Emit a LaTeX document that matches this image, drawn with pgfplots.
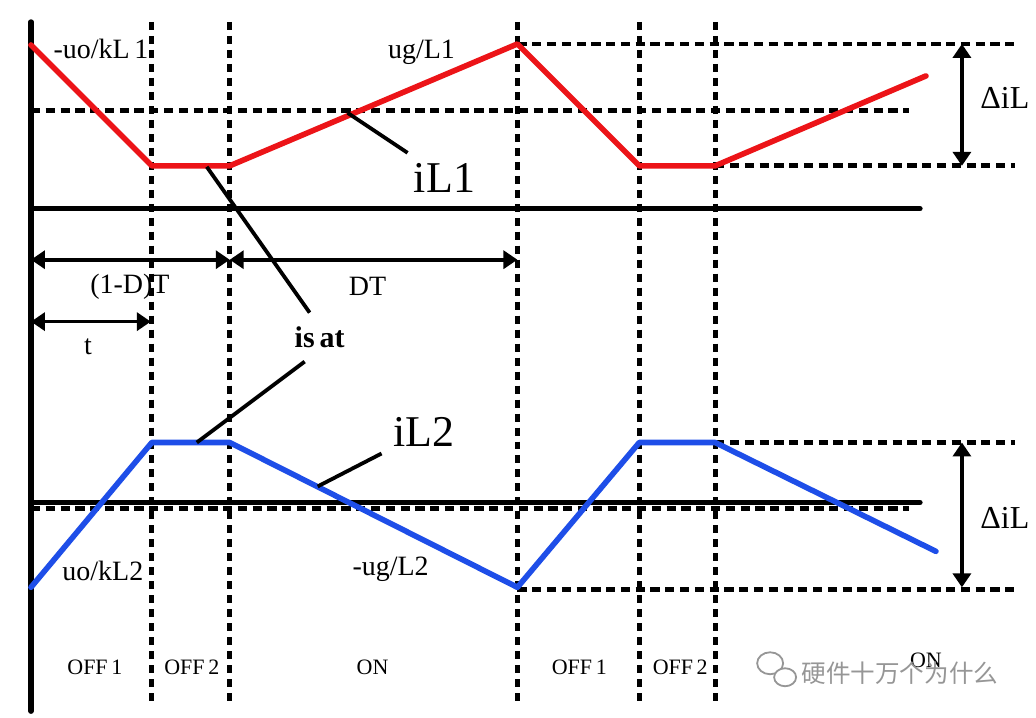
\documentclass[border=0pt]{standalone}
\usepackage{pgfplots}
\pgfplotsset{compat=1.18}
\usepackage{fontspec}
\setmainfont{Liberation Serif}
\newfontfamily\cjk{Noto Sans CJK SC}
\usetikzlibrary{arrows.meta}
\definecolor{wred}{RGB}{236,20,24}
\definecolor{wblue}{RGB}{30,78,232}
\definecolor{wm}{RGB}{150,150,150}
\begin{document}
\begin{tikzpicture}
\begin{axis}[hide axis, scale only axis, width=518pt, height=359pt,
  xmin=0, xmax=1036, ymin=0, ymax=718, y dir=reverse, clip=false]
% invisible frame for bounding box
\addplot[draw=none] coordinates {(0,0) (1036,718)};
% dashed verticals
\pgfplotsinvokeforeach{152,230,518,640,716}{
  \addplot[black, line width=2.5pt, dash pattern=on 4pt off 3pt] coordinates {(#1,22) (#1,705)};
}
% dashed horizontals
\tikzset{hdash/.style={black, line width=2.4pt, dash pattern=on 4.6pt off 2.8pt}}
\addplot[hdash] coordinates {(31,111) (910,111)};
\addplot[hdash] coordinates {(518,44) (1016,44)};
\addplot[hdash] coordinates {(716,166) (1016,166)};
\addplot[hdash] coordinates {(31,509) (910,509)};
\addplot[hdash] coordinates {(716,443) (1016,443)};
\addplot[hdash] coordinates {(518,590) (1016,590)};
% solid black axes
\addplot[black, line width=2.7pt, line cap=round] coordinates {(31,22) (31,712)};
\addplot[black, line width=2.7pt, line cap=round] coordinates {(31,209) (921,209)};
\addplot[black, line width=2.7pt, line cap=round] coordinates {(31,503) (921,503)};
% waveforms
\addplot[wred, line width=2.8pt, line cap=round, line join=round] coordinates {
(31,45) (152,166) (230,166) (518,44) (640,166) (716,166) (927,76)};
\addplot[wblue, line width=2.8pt, line cap=round, line join=round] coordinates {
(31,588) (152,443) (230,443) (518,588) (640,443) (716,443) (937,552)};
% leader lines
\addplot[black, line width=1.9pt] coordinates {(348,113) (408,153)};
\addplot[black, line width=1.9pt] coordinates {(207,167) (310,313)};
\addplot[black, line width=1.9pt] coordinates {(197,443) (305,362)};
\addplot[black, line width=1.9pt] coordinates {(318,487) (382,454)};
% arrows
\tikzset{darr/.style={black, line width=1.8pt, {Triangle[width=9pt,length=7pt]}-{Triangle[width=9pt,length=7pt]}}}
\addplot[darr] coordinates {(31,260) (230,260)};
\addplot[darr] coordinates {(230,260) (518,260)};
\addplot[darr] coordinates {(31,322) (151,322)};
\addplot[darr] coordinates {(963,44) (963,166)};
\addplot[darr] coordinates {(963,443) (963,588)};
% labels
\node[font=\fontsize{14}{16}\selectfont] at (axis cs:101,49) {-uo/kL\,1};
\node[font=\fontsize{14}{16}\selectfont] at (axis cs:422,52) {ug/L1};
\node[font=\fontsize{22}{24}\selectfont] at (axis cs:445,178) {iL1};
\node[font=\fontsize{14}{16}\selectfont] at (axis cs:130,287) {(1-D)T};
\node[font=\fontsize{14}{16}\selectfont] at (axis cs:368,287) {DT};
\node[font=\fontsize{14}{16}\selectfont] at (axis cs:88,347) {t};
\node[font=\fontsize{15}{17}\selectfont\bfseries] at (axis cs:320,338) {is\,at};
\node[font=\fontsize{22}{24}\selectfont] at (axis cs:424,432) {iL2};
\node[font=\fontsize{14}{16}\selectfont] at (axis cs:103,572) {uo/kL2};
\node[font=\fontsize{14}{16}\selectfont] at (axis cs:391,570) {-ug/L2};
\node[font=\fontsize{16}{18}\selectfont] at (axis cs:1006,98) {ΔiL};
\node[font=\fontsize{16}{18}\selectfont] at (axis cs:1006,518) {ΔiL};
\node[font=\fontsize{11}{13}\selectfont] at (axis cs:95,668) {OFF\,1};
\node[font=\fontsize{11}{13}\selectfont] at (axis cs:192,668) {OFF\,2};
\node[font=\fontsize{11}{13}\selectfont] at (axis cs:373,668) {ON};
\node[font=\fontsize{11}{13}\selectfont] at (axis cs:580,668) {OFF\,1};
\node[font=\fontsize{11}{13}\selectfont] at (axis cs:681,668) {OFF\,2};
\node[font=\fontsize{11}{13}\selectfont] at (axis cs:927,661) {ON};
% watermark
\node[font=\fontsize{12.3}{14}\selectfont\cjk, text=wm] at (axis cs:901,674) {硬件十万个为什么};
\draw[wm, line width=0.9pt, fill=white] (axis cs:771,664) ellipse [x radius=6.5pt, y radius=5.5pt];
\draw[wm, line width=0.9pt, fill=white] (axis cs:786,678) ellipse [x radius=5.5pt, y radius=4.5pt];
\end{axis}
\end{tikzpicture}
\end{document}
